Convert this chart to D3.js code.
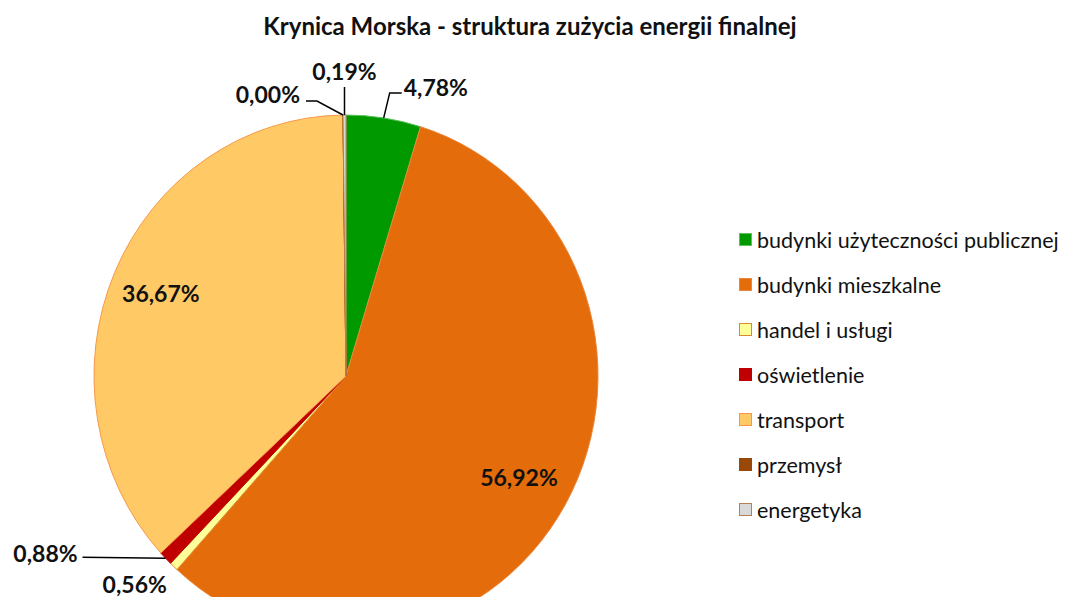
<!DOCTYPE html>
<html>
<head>
<meta charset="utf-8">
<script src="https://cdn.jsdelivr.net/npm/d3@7"></script>
<style>
  body { margin: 0; background: #fff; }
  text { font-family: Lato, "Open Sans", sans-serif; fill: #111; }
</style>
</head>
<body>
<div id="chart"></div>
<script>
var title = "Krynica Morska - struktura zużycia energii finalnej";
var categories = ["budynki użyteczności publicznej", "budynki mieszkalne", "handel i usługi",
                  "oświetlenie", "transport", "przemysł", "energetyka"];
var shares = [4.78, 56.92, 0.56, 0.88, 36.67, 0.00, 0.19];
var shareLabels = ["4,78%", "56,92%", "0,56%", "0,88%", "36,67%", "0,00%", "0,19%"];
var colors = ["#009a00", "#e46c0a", "#ffff99", "#c00000", "#ffc966", "#984807", "#d9d9d9"];
var strokes = ["#5cc25c", "#e9873a", "#d98a2b", "#c00000", "#f79646", "#984807", "#b9804f"];

function init(){
    var w = 1071, h = 597;
    var cx = 346, cy = 376, ry = 261, rx = 252;

    var svg = d3.select("#chart").append("svg")
        .attr("width", w)
        .attr("height", h);

    svg.append("text")
        .attr("x", 530)
        .attr("y", 35)
        .attr("text-anchor", "middle")
        .attr("font-weight", "bold")
        .attr("font-size", 24)
        .text(title);

    var pie = d3.pie().sort(null).value(function(d){ return d; });
    var arcs = pie(shares);
    var arc = d3.arc().innerRadius(0).outerRadius(ry);

    var g = svg.append("g")
        .attr("transform", "translate(" + cx + "," + cy + ") scale(" + (rx / ry) + ",1)");

    g.selectAll("path")
        .data(arcs)
        .enter()
        .append("path")
        .attr("d", arc)
        .attr("fill", function(d, i){ return colors[i]; })
        .attr("stroke", function(d, i){ return strokes[i]; })
        .attr("stroke-width", 1);

    // point on the (slightly squashed) pie at angle a, radius fraction k
    function at(a, k){
        return [cx + rx * k * Math.sin(a), cy - ry * k * Math.cos(a)];
    }

    // how each label sits: inside the slice, or outside with a leader line
    var layout = [
        {leader: [[6, -25], [18, -25]], tx: 2, ty: -5, anchor: "start"},
        {inside: 0.79},
        {leader: [], tx: -39, ty: 18, anchor: "middle"},
        {leader: [[-83, -1]], tx: -5, ty: -4, anchor: "end"},
        {inside: 0.8},
        {leader: [[-26, -14], [-37, -14]], tx: -6, ty: -6, anchor: "end", useStart: true},
        {leader: [[0, -28]], tx: 0, ty: -15, anchor: "middle"}
    ];

    var lineGen = d3.line();

    arcs.forEach(function(d, i){
        var L = layout[i];
        var mid = (d.startAngle + d.endAngle) / 2;
        var x, y, anchor;
        if (L.inside) {
            var p = at(mid, L.inside);
            x = p[0]; y = p[1]; anchor = "middle";
        } else {
            var a = at(L.useStart ? d.startAngle : mid, 1);
            var pts = [a].concat(L.leader.map(function(o){ return [a[0] + o[0], a[1] + o[1]]; }));
            if (pts.length > 1) {
                svg.append("path")
                    .attr("d", lineGen(pts))
                    .attr("fill", "none")
                    .attr("stroke", "#000")
                    .attr("stroke-width", 1.5);
            }
            var last = pts[pts.length - 1];
            x = last[0] + L.tx; y = last[1] + L.ty; anchor = L.anchor;
        }
        svg.append("text")
            .attr("x", x)
            .attr("y", y)
            .attr("dy", "0.36em")
            .attr("text-anchor", anchor)
            .attr("font-weight", "bold")
            .attr("font-size", 23)
            .text(shareLabels[i]);
    });

    var legend = svg.append("g").attr("transform", "translate(739,240)");
    var rows = legend.selectAll("g")
        .data(categories)
        .enter()
        .append("g")
        .attr("transform", function(d, i){ return "translate(0," + (i * 45) + ")"; });

    rows.append("rect")
        .attr("x", 0.5)
        .attr("y", -6.5)
        .attr("width", 12)
        .attr("height", 12)
        .attr("fill", function(d, i){ return colors[i]; })
        .attr("stroke", function(d, i){ return strokes[i]; })
        .attr("stroke-width", 1);

    rows.append("text")
        .attr("x", 18)
        .attr("y", 0)
        .attr("dy", "0.35em")
        .attr("font-size", 21.5)
        .text(function(d){ return d; });
}

window.onload = init;
</script>
</body>
</html>
